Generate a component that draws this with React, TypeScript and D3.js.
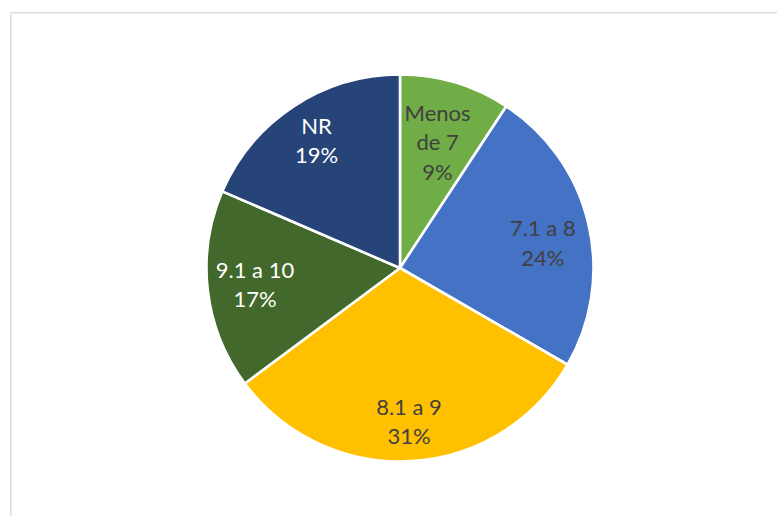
import React from "react";
import * as d3 from "d3";

const categories = ["Menos de 7", "7.1 a 8", "8.1 a 9", "9.1 a 10", "NR"];
const counts = [5, 13, 17, 9, 10];
const labelLines = [["Menos", "de 7"], ["7.1 a 8"], ["8.1 a 9"], ["9.1 a 10"], ["NR"]];

const colors = ["#70AD47", "#4472C4", "#FFC000", "#43682B", "#264478"];
const textColors = ["#404040", "#404040", "#404040", "#FFFFFF", "#FFFFFF"];
const labelRadii = [131, 145, 154, 146, 152];
const labelAngleShift = [0, 0.06, 0, 0, 0];

const W = 777;
const H = 516;
const cx = 400;
const cy = 268;
const R = 193.5;

export default function App() {
  const total = d3.sum(counts);
  const pie = d3.pie<number>().sort(null).value((d) => d);
  const arcs = pie(counts);
  const arcGen = d3.arc<d3.PieArcDatum<number>>().innerRadius(0).outerRadius(R);
  const fmt = d3.format(".0%");
  const lineH = 29.5;
  const fontSize = 22;

  return (
    <svg width={W} height={H} style={{ position: "absolute", left: 0, top: 0 }}>
      <rect x={0} y={0} width={W} height={H} fill="#fff" />
      <rect x={10.75} y={12.75} width={W + 20} height={H + 20} fill="#fff" stroke="#D9D9D9" strokeWidth={1.3} />
      <g transform={`translate(${cx},${cy})`}>
        {arcs.map((a, i) => (
          <path key={categories[i]} d={arcGen(a) || ""} fill={colors[i]} stroke="#fff" strokeWidth={2.6} strokeLinejoin="round" />
        ))}
        {arcs.map((a, i) => {
          const mid = (a.startAngle + a.endAngle) / 2 + labelAngleShift[i];
          const r = labelRadii[i];
          const x = Math.sin(mid) * r;
          const y = -Math.cos(mid) * r;
          const lines = [...labelLines[i], fmt(counts[i] / total)];
          const y0 = y - ((lines.length - 1) * lineH) / 2;
          return (
            <text
              key={"t" + i}
              x={x}
              textAnchor="middle"
              fill={textColors[i]}
              style={{ fontFamily: "Lato, 'Open Sans', sans-serif", fontSize }}
            >
              {lines.map((l, j) => (
                <tspan key={j} x={x} y={y0 + j * lineH} dy="0.35em">
                  {l}
                </tspan>
              ))}
            </text>
          );
        })}
      </g>
    </svg>
  );
}
